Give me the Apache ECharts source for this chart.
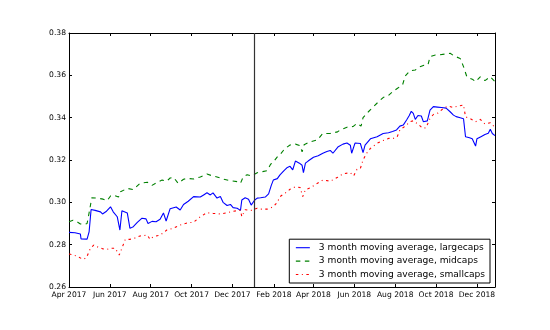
<!DOCTYPE html>
<html>
<head>
<meta charset="utf-8">
<script src="https://cdn.jsdelivr.net/npm/echarts@6/dist/echarts.min.js"></script>
<style>
  html, body { margin: 0; padding: 0; background: #fff; }
  #chart { width: 550px; height: 330px; }
</style>
</head>
<body>
<div id="chart"></div>
<script>
// 3 month moving averages
const largeDates = ['2017-04-01','2017-04-10','2017-04-18','2017-04-19','2017-04-28','2017-05-01','2017-05-04','2017-05-10','2017-05-18','2017-05-21','2017-05-27','2017-06-02','2017-06-06','2017-06-12','2017-06-16','2017-06-19','2017-06-27','2017-07-01','2017-07-06','2017-07-12','2017-07-19','2017-07-25','2017-07-28','2017-08-03','2017-08-09','2017-08-15','2017-08-20','2017-08-24','2017-08-30','2017-09-08','2017-09-14','2017-09-19','2017-09-26','2017-10-04','2017-10-14','2017-10-19','2017-10-24','2017-10-29','2017-11-02','2017-11-08','2017-11-13','2017-11-17','2017-11-23','2017-11-28','2017-12-02','2017-12-08','2017-12-13','2017-12-15','2017-12-20','2017-12-25','2017-12-29','2018-01-03','2018-01-07','2018-01-12','2018-01-19','2018-01-24','2018-01-28','2018-01-31','2018-02-06','2018-02-10','2018-02-16','2018-02-21','2018-02-25','2018-03-01','2018-03-05','2018-03-11','2018-03-15','2018-03-17','2018-03-20','2018-03-24','2018-04-01','2018-04-08','2018-04-15','2018-04-21','2018-04-26','2018-04-30','2018-05-08','2018-05-15','2018-05-21','2018-05-26','2018-05-28','2018-06-02','2018-06-10','2018-06-14','2018-06-17','2018-06-25','2018-07-05','2018-07-14','2018-07-22','2018-07-28','2018-08-03','2018-08-08','2018-08-13','2018-08-18','2018-08-22','2018-08-25','2018-08-28','2018-08-31','2018-09-04','2018-09-09','2018-09-12','2018-09-18','2018-09-22','2018-09-27','2018-10-03','2018-10-09','2018-10-16','2018-10-22','2018-10-27','2018-10-31','2018-11-06','2018-11-11','2018-11-14','2018-11-20','2018-11-24','2018-11-29','2018-12-01','2018-12-07','2018-12-13','2018-12-18','2018-12-21','2018-12-24','2018-12-28'];
const largeVals = [0.2858,0.2856,0.2850,0.2827,0.2826,0.2860,0.2966,0.2962,0.2955,0.2945,0.2958,0.2979,0.2955,0.2932,0.2869,0.2960,0.2950,0.2877,0.2885,0.2905,0.2925,0.2922,0.2900,0.2910,0.2908,0.2920,0.2950,0.2912,0.2970,0.2978,0.2964,0.2990,0.3005,0.3027,0.3025,0.3035,0.3045,0.3035,0.3045,0.3020,0.3028,0.3000,0.2985,0.2990,0.2975,0.2972,0.2962,0.3011,0.3022,0.3015,0.2987,0.3010,0.3020,0.3022,0.3025,0.3040,0.3080,0.3105,0.3112,0.3130,0.3150,0.3165,0.3170,0.3153,0.3195,0.3185,0.3175,0.3140,0.3185,0.3195,0.3213,0.3220,0.3232,0.3240,0.3245,0.3232,0.3263,0.3275,0.3280,0.3270,0.3232,0.3280,0.3278,0.3235,0.3270,0.3300,0.3310,0.3325,0.3329,0.3335,0.3342,0.3360,0.3365,0.3389,0.3410,0.3430,0.3420,0.3392,0.3410,0.3408,0.3381,0.3385,0.3436,0.3452,0.3450,0.3448,0.3445,0.3428,0.3412,0.3405,0.3400,0.3395,0.3310,0.3305,0.3300,0.3266,0.3300,0.3310,0.3320,0.3326,0.3345,0.3325,0.3315];

const midDates = ['2017-04-01','2017-04-07','2017-04-12','2017-04-18','2017-04-24','2017-04-28','2017-05-01','2017-05-05','2017-05-13','2017-05-22','2017-05-28','2017-06-02','2017-06-06','2017-06-14','2017-06-17','2017-06-27','2017-07-06','2017-07-16','2017-07-27','2017-08-03','2017-08-11','2017-08-18','2017-08-25','2017-08-30','2017-09-04','2017-09-11','2017-09-19','2017-09-25','2017-10-04','2017-10-14','2017-10-24','2017-11-01','2017-11-08','2017-11-17','2017-11-28','2017-12-08','2017-12-13','2017-12-17','2017-12-23','2017-12-29','2018-01-07','2018-01-15','2018-01-22','2018-01-27','2018-01-31','2018-02-06','2018-02-10','2018-02-15','2018-02-21','2018-02-25','2018-03-05','2018-03-12','2018-03-15','2018-03-18','2018-03-27','2018-04-07','2018-04-15','2018-04-26','2018-05-07','2018-05-11','2018-05-21','2018-05-30','2018-06-05','2018-06-11','2018-06-14','2018-06-22','2018-06-29','2018-07-07','2018-07-14','2018-07-22','2018-07-29','2018-08-04','2018-08-12','2018-08-16','2018-08-23','2018-08-31','2018-09-07','2018-09-13','2018-09-19','2018-09-22','2018-09-30','2018-10-07','2018-10-15','2018-10-22','2018-10-29','2018-11-06','2018-11-11','2018-11-16','2018-11-21','2018-11-25','2018-11-29','2018-12-06','2018-12-13','2018-12-21','2018-12-28'];
const midVals = [0.2908,0.2915,0.2910,0.2898,0.2895,0.2900,0.2950,0.3021,0.3020,0.3015,0.3008,0.3030,0.3035,0.3025,0.3050,0.3066,0.3060,0.3090,0.3095,0.3080,0.3095,0.3105,0.3100,0.3115,0.3118,0.3090,0.3109,0.3113,0.3110,0.3120,0.3134,0.3125,0.3120,0.3110,0.3102,0.3098,0.3090,0.3120,0.3130,0.3125,0.3140,0.3145,0.3150,0.3180,0.3190,0.3215,0.3225,0.3245,0.3262,0.3271,0.3275,0.3268,0.3239,0.3272,0.3286,0.3295,0.3326,0.3325,0.3333,0.3342,0.3355,0.3358,0.3373,0.3360,0.3400,0.3428,0.3450,0.3475,0.3495,0.3505,0.3525,0.3538,0.3555,0.3597,0.3622,0.3625,0.3640,0.3648,0.3650,0.3688,0.3696,0.3697,0.3701,0.3704,0.3690,0.3680,0.3641,0.3593,0.3585,0.3580,0.3570,0.3593,0.3575,0.3593,0.3570];

const smallDates = ['2017-04-01','2017-04-09','2017-04-16','2017-04-22','2017-04-27','2017-05-03','2017-05-08','2017-05-13','2017-05-22','2017-05-28','2017-06-02','2017-06-09','2017-06-15','2017-06-19','2017-06-24','2017-07-01','2017-07-09','2017-07-16','2017-07-27','2017-07-31','2017-08-05','2017-08-15','2017-08-25','2017-09-04','2017-09-14','2017-09-25','2017-10-04','2017-10-14','2017-10-24','2017-11-02','2017-11-13','2017-11-23','2017-12-02','2017-12-13','2017-12-15','2017-12-20','2017-12-30','2018-01-07','2018-01-12','2018-01-22','2018-01-31','2018-02-06','2018-02-10','2018-02-16','2018-02-21','2018-02-25','2018-03-05','2018-03-12','2018-03-16','2018-03-20','2018-03-27','2018-04-07','2018-04-15','2018-04-26','2018-05-07','2018-05-15','2018-05-26','2018-05-31','2018-06-05','2018-06-10','2018-06-14','2018-06-19','2018-06-25','2018-07-05','2018-07-14','2018-07-22','2018-07-29','2018-08-04','2018-08-08','2018-08-16','2018-08-23','2018-08-28','2018-09-04','2018-09-11','2018-09-16','2018-09-22','2018-09-27','2018-10-04','2018-10-12','2018-10-19','2018-10-27','2018-11-03','2018-11-11','2018-11-14','2018-11-21','2018-11-29','2018-12-06','2018-12-13','2018-12-21','2018-12-28'];
const smallVals = [0.2756,0.2750,0.2740,0.2731,0.2738,0.2783,0.2798,0.2790,0.2780,0.2778,0.2783,0.2783,0.2751,0.2783,0.2825,0.2825,0.2832,0.2841,0.2845,0.2825,0.2838,0.2845,0.2869,0.2878,0.2893,0.2903,0.2906,0.2932,0.2951,0.2948,0.2945,0.2951,0.2958,0.2962,0.2932,0.2965,0.2962,0.2972,0.2968,0.2968,0.2979,0.3000,0.3027,0.3040,0.3050,0.3062,0.3074,0.3070,0.3027,0.3060,0.3068,0.3090,0.3105,0.3100,0.3118,0.3135,0.3140,0.3125,0.3156,0.3160,0.3200,0.3230,0.3255,0.3279,0.3292,0.3302,0.3302,0.3310,0.3342,0.3360,0.3381,0.3385,0.3370,0.3350,0.3352,0.3397,0.3415,0.3422,0.3444,0.3455,0.3448,0.3455,0.3460,0.3404,0.3395,0.3381,0.3392,0.3370,0.3376,0.3354];

const seriesNames = ['3 month moving average, largecaps', '3 month moving average, midcaps', '3 month moving average, smallcaps'];

const tickDates = ['2017-04-01','2017-06-01','2017-08-01','2017-10-01','2017-12-01','2018-02-01','2018-04-01','2018-06-01','2018-08-01','2018-10-01','2018-12-01'];
const tickLabels = ['Apr 2017','Jun 2017','Aug 2017','Oct 2017','Dec 2017','Feb 2018','Apr 2018','Jun 2018','Aug 2018','Oct 2018','Dec 2018'];

const xStart = '2017-04-01';
const xEnd = '2018-12-28';
const splitDate = '2018-01-02';

function ts(s) {
  return +new Date(s + 'T00:00:00');
}

function pairs(dates, vals) {
  return dates.map(function (d, i) { return [ts(d), vals[i]]; });
}

const tickValues = tickDates.map(ts);
const font = 'DejaVu Sans';

const chart = echarts.init(document.getElementById('chart'), null, { renderer: 'canvas' });

// dates go on a plain value axis (timestamps) so the ticks can sit on the 1st of every other month
const xBase = {
  type: 'value',
  min: ts(xStart),
  max: ts(xEnd),
  splitLine: { show: false },
  axisLine: { show: true, onZero: false, lineStyle: { color: '#000', width: 1 } },
  axisTick: { show: true, inside: true, length: 3, customValues: tickValues, lineStyle: { color: '#000' } }
};
const yBase = {
  type: 'value',
  min: 0.26,
  max: 0.38,
  interval: 0.02,
  splitLine: { show: false },
  axisLine: { show: true, onZero: false, lineStyle: { color: '#000', width: 1 } },
  axisTick: { show: true, inside: true, length: 3, lineStyle: { color: '#000' } }
};

var option = {
  animation: false,
  backgroundColor: '#ffffff',
  grid: {
    left: 69,
    right: 55,
    top: 33,
    bottom: 43
  },
  legend: {
    orient: 'vertical',
    right: 60,
    bottom: 47,
    data: seriesNames,
    backgroundColor: '#fff',
    borderColor: '#000',
    borderWidth: 1,
    borderRadius: 0,
    padding: [3, 5, 3, 6],
    itemGap: 2.4,
    itemWidth: 14,
    itemHeight: 10,
    itemStyle: { opacity: 0, borderWidth: 0 },  // line sample only, no dot
    lineStyle: { width: 1.1 },
    textStyle: {
      fontFamily: font,
      fontSize: 9.1,
      color: '#000',
      lineHeight: 11,
      padding: [0, 0, 0, 4]
    }
  },
  xAxis: [
    Object.assign({}, xBase, {
      position: 'bottom',
      axisLabel: {
        show: true,
        customValues: tickValues,
        fontFamily: font,
        fontSize: 7.6,
        color: '#000',
        margin: 4,
        formatter: function (v) {
          const i = tickValues.indexOf(v);
          return i >= 0 ? tickLabels[i] : '';
        }
      }
    }),
    Object.assign({}, xBase, {
      position: 'top',
      axisLabel: { show: false }
    })
  ],
  yAxis: [
    Object.assign({}, yBase, {
      position: 'left',
      axisLabel: {
        fontFamily: font,
        fontSize: 7.6,
        color: '#000',
        margin: 3,
        formatter: function (v) { return v.toFixed(2); }
      }
    }),
    Object.assign({}, yBase, {
      position: 'right',
      axisLabel: { show: false }
    })
  ],
  series: [
    {
      name: seriesNames[0],
      type: 'line',
      data: pairs(largeDates, largeVals),
      symbol: 'none',
      showSymbol: false,
      color: '#0000ff',
      lineStyle: { color: '#0000ff', width: 1.1, type: 'solid' },
      markLine: {
        silent: true,
        symbol: ['none', 'none'],
        label: { show: false },
        lineStyle: { color: '#333', width: 1.2, type: 'solid' },
        data: [{ xAxis: ts(splitDate) }]
      }
    },
    {
      name: seriesNames[1],
      type: 'line',
      data: pairs(midDates, midVals),
      symbol: 'none',
      showSymbol: false,
      color: '#008000',
      lineStyle: { color: '#008000', width: 1.1, type: [4.5, 4.5] }
    },
    {
      name: seriesNames[2],
      type: 'line',
      data: pairs(smallDates, smallVals),
      symbol: 'none',
      showSymbol: false,
      color: '#ff0000',
      lineStyle: { color: '#ff0000', width: 1.1, type: [2.5, 3.5, 1, 3.5] }
    }
  ]
};

chart.setOption(option);
</script>
</body>
</html>
